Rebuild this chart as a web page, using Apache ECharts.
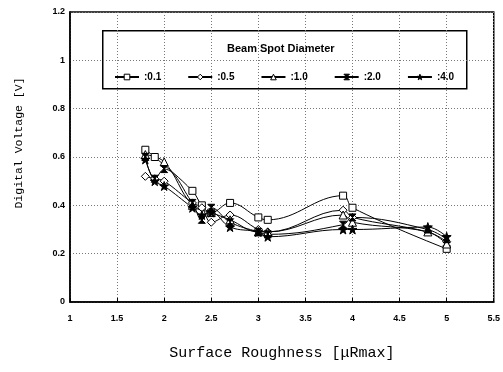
<!DOCTYPE html>
<html>
<head>
<meta charset="utf-8">
<script src="https://cdn.jsdelivr.net/npm/echarts@6/dist/echarts.min.js"></script>
<style>
html,body{margin:0;padding:0;background:#fff;}
#main{width:503px;height:372px;}
</style>
</head>
<body>
<div id="main"></div>
<script>
// data
var names = [':0.1', ':0.5', ':1.0', ':2.0', ':4.0'];
var d01 = [[1.8,0.63],[1.9,0.60],[2.3,0.46],[2.4,0.40],[2.5,0.37],[2.7,0.41],[3.0,0.35],[3.1,0.34],[3.9,0.44],[4.0,0.39],[5.0,0.22]];
var d05 = [[1.8,0.52],[1.9,0.51],[2.0,0.50],[2.3,0.41],[2.4,0.39],[2.5,0.33],[2.7,0.36],[3.0,0.30],[3.1,0.29],[3.9,0.38],[4.0,0.35],[4.8,0.29],[5.0,0.25]];
var d10 = [[1.8,0.61],[2.0,0.58],[2.3,0.40],[2.5,0.37],[2.7,0.34],[3.0,0.29],[3.1,0.29],[3.9,0.36],[4.0,0.33],[4.8,0.29],[5.0,0.24]];
var d20 = [[1.8,0.60],[1.9,0.51],[2.0,0.55],[2.3,0.41],[2.4,0.34],[2.5,0.39],[2.7,0.33],[3.0,0.29],[3.1,0.28],[3.9,0.32],[4.0,0.35],[4.8,0.30],[5.0,0.26]];
var d40 = [[1.8,0.59],[1.9,0.50],[2.0,0.48],[2.3,0.39],[2.4,0.36],[2.5,0.37],[2.7,0.31],[3.0,0.29],[3.1,0.27],[3.9,0.30],[4.0,0.30],[4.8,0.31],[5.0,0.27]];
var seriesData = [d01, d05, d10, d20, d40];

var hourglass = 'path://M0,0 L10,0 L0,10 L10,10 Z';
var star = 'path://M5,0 L6.2,3.6 L10,3.6 L6.9,5.9 L8.1,9.5 L5,7.3 L1.9,9.5 L3.1,5.9 L0,3.6 L3.8,3.6 Z';
var symbols = ['rect', 'diamond', 'triangle', hourglass, star];
var fills = ['#fff', '#fff', '#fff', '#000', '#000'];
var sizes = [7, 8, 8, 7, 9];

var series = [];
for (var i = 0; i < names.length; i++) {
	series.push({
		name: names[i],
		type: 'line',
		smooth: 0.4,
		data: seriesData[i],
		symbol: symbols[i],
		symbolSize: sizes[i],
		showAllSymbol: true,
		lineStyle: {color: '#000', width: 1},
		itemStyle: {color: fills[i], borderColor: '#000', borderWidth: 1}
	});
}

var myChart = echarts.init(document.getElementById('main'));
var option = {
	animation: false,
	backgroundColor: '#fff',
	grid: {left: 70, right: 7, top: 12, bottom: 70, show: true, borderColor: '#000', borderWidth: 1.5},
	xAxis: {
		type: 'value', min: 1, max: 5.5, interval: 0.5,
		name: 'Surface Roughness [\u03bcRmax]',
		nameLocation: 'middle', nameGap: 44,
		nameTextStyle: {fontFamily: 'Liberation Mono', fontSize: 15, color: '#000'},
		axisLine: {lineStyle: {color: '#000', width: 1.5}},
		axisTick: {inside: true, length: 4, lineStyle: {color: '#000'}},
		axisLabel: {color: '#000', fontSize: 9, fontWeight: 'bold', fontFamily: 'Liberation Sans', margin: 12,
			formatter: function(v){ return String(v); }},
		splitLine: {show: true, lineStyle: {color: '#777', type: [1, 2], width: 1}}
	},
	yAxis: {
		type: 'value', min: 0, max: 1.2, interval: 0.2,
		axisLine: {lineStyle: {color: '#000', width: 1.5}},
		axisTick: {show: false},
		axisLabel: {color: '#000', fontSize: 9, fontWeight: 'bold', fontFamily: 'Liberation Sans', margin: 5,
			formatter: function(v){ return String(Math.round(v * 10) / 10); }},
		splitLine: {show: true, lineStyle: {color: '#777', type: [1, 2], width: 1}}
	},
	legend: {
		data: names,
		left: 109, top: 67,
		itemWidth: 24, itemHeight: 7, itemGap: 26, itemStyle: {borderWidth: 1},
		textStyle: {color: '#000', fontSize: 10, fontWeight: 'bold', fontFamily: 'Liberation Sans'}
	},
	graphic: [
		{type: 'rect', left: 102, top: 30, z: 0,
			shape: {width: 364, height: 58},
			style: {fill: '#fff', stroke: '#000', lineWidth: 1.5}},
		{type: 'text', left: 227, top: 43, z: 1,
			style: {text: 'Beam Spot Diameter', fill: '#000', fontSize: 11, fontWeight: 'bold', fontFamily: 'Liberation Sans'}},
		{type: 'text', x: 19, y: 143, rotation: Math.PI / 2, z: 1,
			style: {text: 'Digital Voltage [V]', fill: '#000', fontSize: 11.5, fontFamily: 'Liberation Mono',
				align: 'center', verticalAlign: 'middle'}}
	],
	series: series
};
myChart.setOption(option);
</script>
</body>
</html>
